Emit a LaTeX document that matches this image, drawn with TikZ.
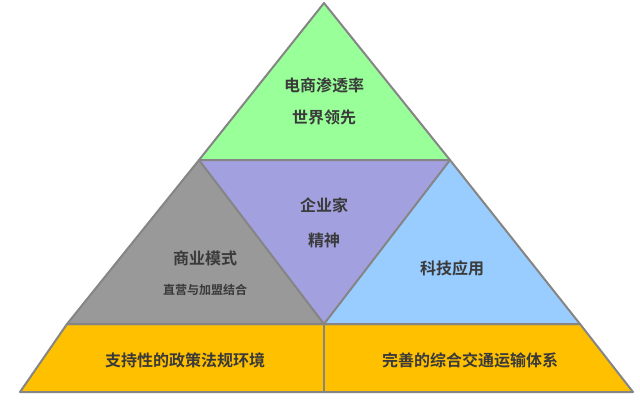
\documentclass[tikz,border=0pt]{standalone}
\usepackage{fontspec}
\setmainfont{Noto Sans CJK SC}
\newfontfamily\cjkb{Noto Sans CJK SC Bold}
\definecolor{cgreen}{HTML}{99FF99}
\definecolor{cpurple}{HTML}{A3A0E0}
\definecolor{cgray}{HTML}{999999}
\definecolor{cblue}{HTML}{99CCFF}
\definecolor{cgold}{HTML}{FFC000}
\definecolor{cedge}{HTML}{858585}
\definecolor{ctext}{HTML}{3A3A3A}
\begin{document}
\begin{tikzpicture}[x=1pt,y=-1pt,
  part/.style={draw=cedge,line width=2pt,line join=round},
  lbl/.style={font=\cjkb\fontsize{16}{18}\selectfont,text=ctext,align=center},
  sub/.style={font=\cjkb\fontsize{12}{14}\selectfont,text=ctext}]
\useasboundingbox (0,0) rectangle (640,400);
\coordinate (A) at (324,3);
\coordinate (L) at (199,160);
\coordinate (R) at (450,160);
\coordinate (BL) at (67,324);
\coordinate (BM) at (324,324);
\coordinate (BR) at (580,324);
\coordinate (DL) at (20,392);
\coordinate (DM) at (324,392);
\coordinate (DR) at (633,392);
\fill[cgreen] (A)--(L)--(R)--cycle;
\fill[cgray] (L)--(BL)--(BM)--cycle;
\fill[cblue] (R)--(BM)--(BR)--cycle;
\fill[cpurple] (L)--(R)--(BM)--cycle;
\fill[cgold] (BL)--(BR)--(DR)--(DL)--cycle;
\draw[part] (A)--(L)--(R)--cycle;
\draw[part] (L)--(BL)--(BM)--cycle;
\draw[part] (R)--(BM)--(BR)--cycle;
\draw[part] (BL)--(BR)--(DR)--(DL)--cycle;
\draw[part] (BM)--(DM);
\node[lbl] (t1) at (324,85) {电商渗透率};
\node[lbl] (t2) at (324,117) {世界领先};
\node[lbl] (m1) at (324,205) {企业家};
\node[lbl] (m2) at (324,240) {精神};
\node[lbl] (l1) at (205,258) {商业模式};
\node[sub] (l2) at (205,290) {直营与加盟结合};
\node[lbl] (r1) at (452,268) {科技应用};
\node[lbl] (b1) at (185,360) {支持性的政策法规环境};
\node[lbl] (b2) at (470,360) {完善的综合交通运输体系};
\end{tikzpicture}
\end{document}
